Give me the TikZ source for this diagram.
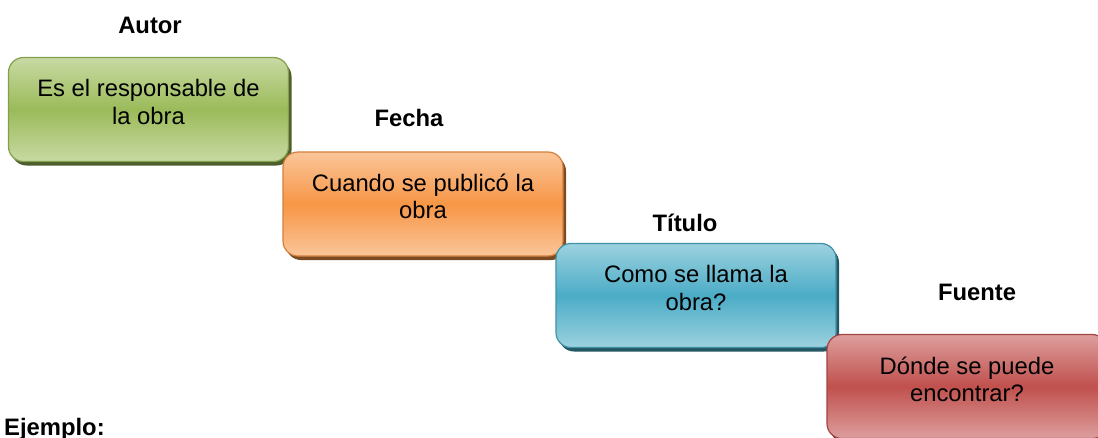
\documentclass[tikz,border=0pt]{standalone}
\usepackage{fontspec}
\setmainfont{Liberation Sans}
\usetikzlibrary{shadows}
\definecolor{olgreen}{HTML}{9BBB59}
\definecolor{olorange}{HTML}{F79646}
\definecolor{olblue}{HTML}{4BACC6}
\definecolor{olred}{HTML}{C0504D}
\newcommand{\cardfont}{\fontsize{23.8}{27.4}\selectfont}
\tikzset{
  card/.style={draw=#1!85!black, line width=1.2pt, rounded corners=15pt,
    minimum width=280pt, minimum height=104pt, align=center, text depth=15pt,
    top color=#1!55!white, bottom color=#1!55!white, middle color=#1,
    font=\cardfont,
    general shadow={fill=#1!50!black, shadow xshift=3pt, shadow yshift=-4pt}},
  cardtitle/.style={font=\cardfont\bfseries}
}
\begin{document}
\begin{tikzpicture}[x=1pt,y=-1pt]
\useasboundingbox (0,0) rectangle (1098,437);
\node[card=olgreen] (autor) at (148.5,109.5) {Es el responsable de\\la obra};
\node[card=olorange] (fecha) at (423,204) {Cuando se publicó la\\obra};
\node[card=olblue] (titulo) at (696,295.5) {Como se llama la\\obra?};
\node[card=olred] (fuente) at (967,386.5) {Dónde se puede\\encontrar?};
\node[cardtitle] (autorlbl) at (150,25) {Autor};
\node[cardtitle] (fechalbl) at (409,118) {Fecha};
\node[cardtitle] (titulolbl) at (685,223) {Título};
\node[cardtitle] (fuentelbl) at (977,292) {Fuente};
\node[cardtitle, anchor=base west, inner sep=0pt] (ejemplo) at (4,435) {Ejemplo:};
\end{tikzpicture}
\end{document}
